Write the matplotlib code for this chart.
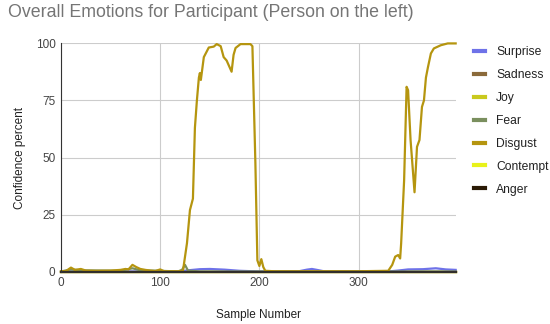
import matplotlib.pyplot as plt

plt.rcParams['font.family'] = ['Liberation Sans', 'DejaVu Sans']

# series (sample number, confidence percent)
disgust_x = [0, 5, 10, 14, 20, 25, 35, 50, 60, 65, 68, 72, 76, 80, 85, 90, 95, 100, 104, 110, 118, 123,
             127, 130, 133, 135, 137, 139, 140, 141, 144, 149, 154, 157, 161, 164, 167, 172, 174, 176, 181,
             191, 193, 196, 198, 200, 202, 204, 206, 215, 240, 260, 300, 330, 334, 337, 340, 342, 343,
             346, 348.5, 350, 352.5, 356.5, 359, 361.5, 364, 366, 368, 370, 373, 376, 383, 390, 398]
disgust_y = [0.2, 0.3, 1.8, 0.8, 1.2, 0.5, 0.4, 0.5, 0.8, 1.2, 1.0, 3.0, 2.0, 1.2, 0.8, 0.5, 0.3, 1.0, 0.2, 0.2, 0.2, 0.5,
             12.5, 27, 32, 63, 75, 85, 87, 84, 94, 98.2, 98.6, 99.7, 98.8, 94, 92.5, 87.6, 95, 98, 99.7,
             99.7, 98.8, 47.5, 5, 2.5, 5.5, 2, 0.4, 0.2, 0.2, 0.2, 0.2, 0.4, 3, 6.6, 7.3, 5.8, 12.4,
             40, 81, 79.5, 57.7, 34.8, 54.7, 57.7, 72.2, 75, 85, 89.5, 95.6, 97.8, 99.2, 100, 100]

surprise_x = [0, 120, 128, 140, 150, 165, 180, 200, 240, 248, 253, 258, 265, 330, 340, 350, 365, 378, 388, 398]
surprise_y = [0.1, 0.1, 0.6, 1.1, 1.2, 0.9, 0.4, 0.1, 0.2, 0.9, 1.2, 0.8, 0.2, 0.1, 0.5, 1.0, 1.1, 1.5, 1.0, 0.8]

fear_x = [0, 10, 20, 60, 72, 80, 100, 118, 122, 125, 128, 140, 398]
fear_y = [0.1, 1.0, 0.6, 0.4, 1.5, 0.6, 0.4, 0.1, 0.8, 3.0, 0.5, 0.1, 0.1]

sample_x = [0, 398]
zero_y = [0, 0]

series = ['Surprise', 'Sadness', 'Joy', 'Fear', 'Disgust', 'Contempt', 'Anger']
colors = ['#6e72e8', '#8b6a3a', '#c9c91e', '#7a8f5e', '#b5950f', '#e8f21a', '#2a1a05']

fig = plt.figure(figsize=(5.5, 3.24), dpi=100)
ax = fig.add_axes([0.111, 0.1614, 0.7175, 0.7046])

data = {
    'Surprise': (surprise_x, surprise_y),
    'Sadness': (sample_x, zero_y),
    'Joy': (sample_x, zero_y),
    'Fear': (fear_x, fear_y),
    'Disgust': (disgust_x, disgust_y),
    'Contempt': (sample_x, zero_y),
    'Anger': (sample_x, zero_y),
}
order = ['Sadness', 'Joy', 'Contempt', 'Surprise', 'Fear', 'Disgust', 'Anger']
handles = {}
for name in order:
    xs, ys = data[name]
    c = colors[series.index(name)]
    ln, = ax.plot(xs, ys, color=c, lw=1.6, solid_joinstyle='round', clip_on=False)
    handles[name] = ln

ax.set_xlim(0, 398)
ax.set_ylim(0, 100)
ax.set_xticks([0, 100, 200, 300])
ax.set_yticks([0, 25, 50, 75, 100])
ax.grid(True, color='#cccccc', lw=0.8)
ax.set_axisbelow(True)
for s in ['top', 'right']:
    ax.spines[s].set_visible(False)
ax.spines['left'].set_color('#333333')
ax.spines['left'].set_linewidth(0.8)
ax.spines['bottom'].set_color('#333333')
ax.spines['bottom'].set_linewidth(1.2)
ax.tick_params(length=0, labelsize=8.5, colors='#444444', pad=4)

ax.set_xlabel('Sample Number', fontsize=8.5, color='#222222', labelpad=14)
ax.set_ylabel('Confidence percent', fontsize=8.5, color='#222222', labelpad=7)

fig.text(0.015, 0.962, 'Overall Emotions for Participant (Person on the left)',
         fontsize=12.8, color='#757575', va='center', ha='left')

leg = ax.legend([handles[n] for n in series], series, loc='upper left',
                bbox_to_anchor=(1.02, 1.035), frameon=False, fontsize=8.7,
                handlelength=0.9, handletextpad=0.9, labelspacing=0.9)
for h in leg.get_lines():
    h.set_linewidth(3)
for t in leg.get_texts():
    t.set_color('#222222')

fig.savefig('out.png', dpi=100)
